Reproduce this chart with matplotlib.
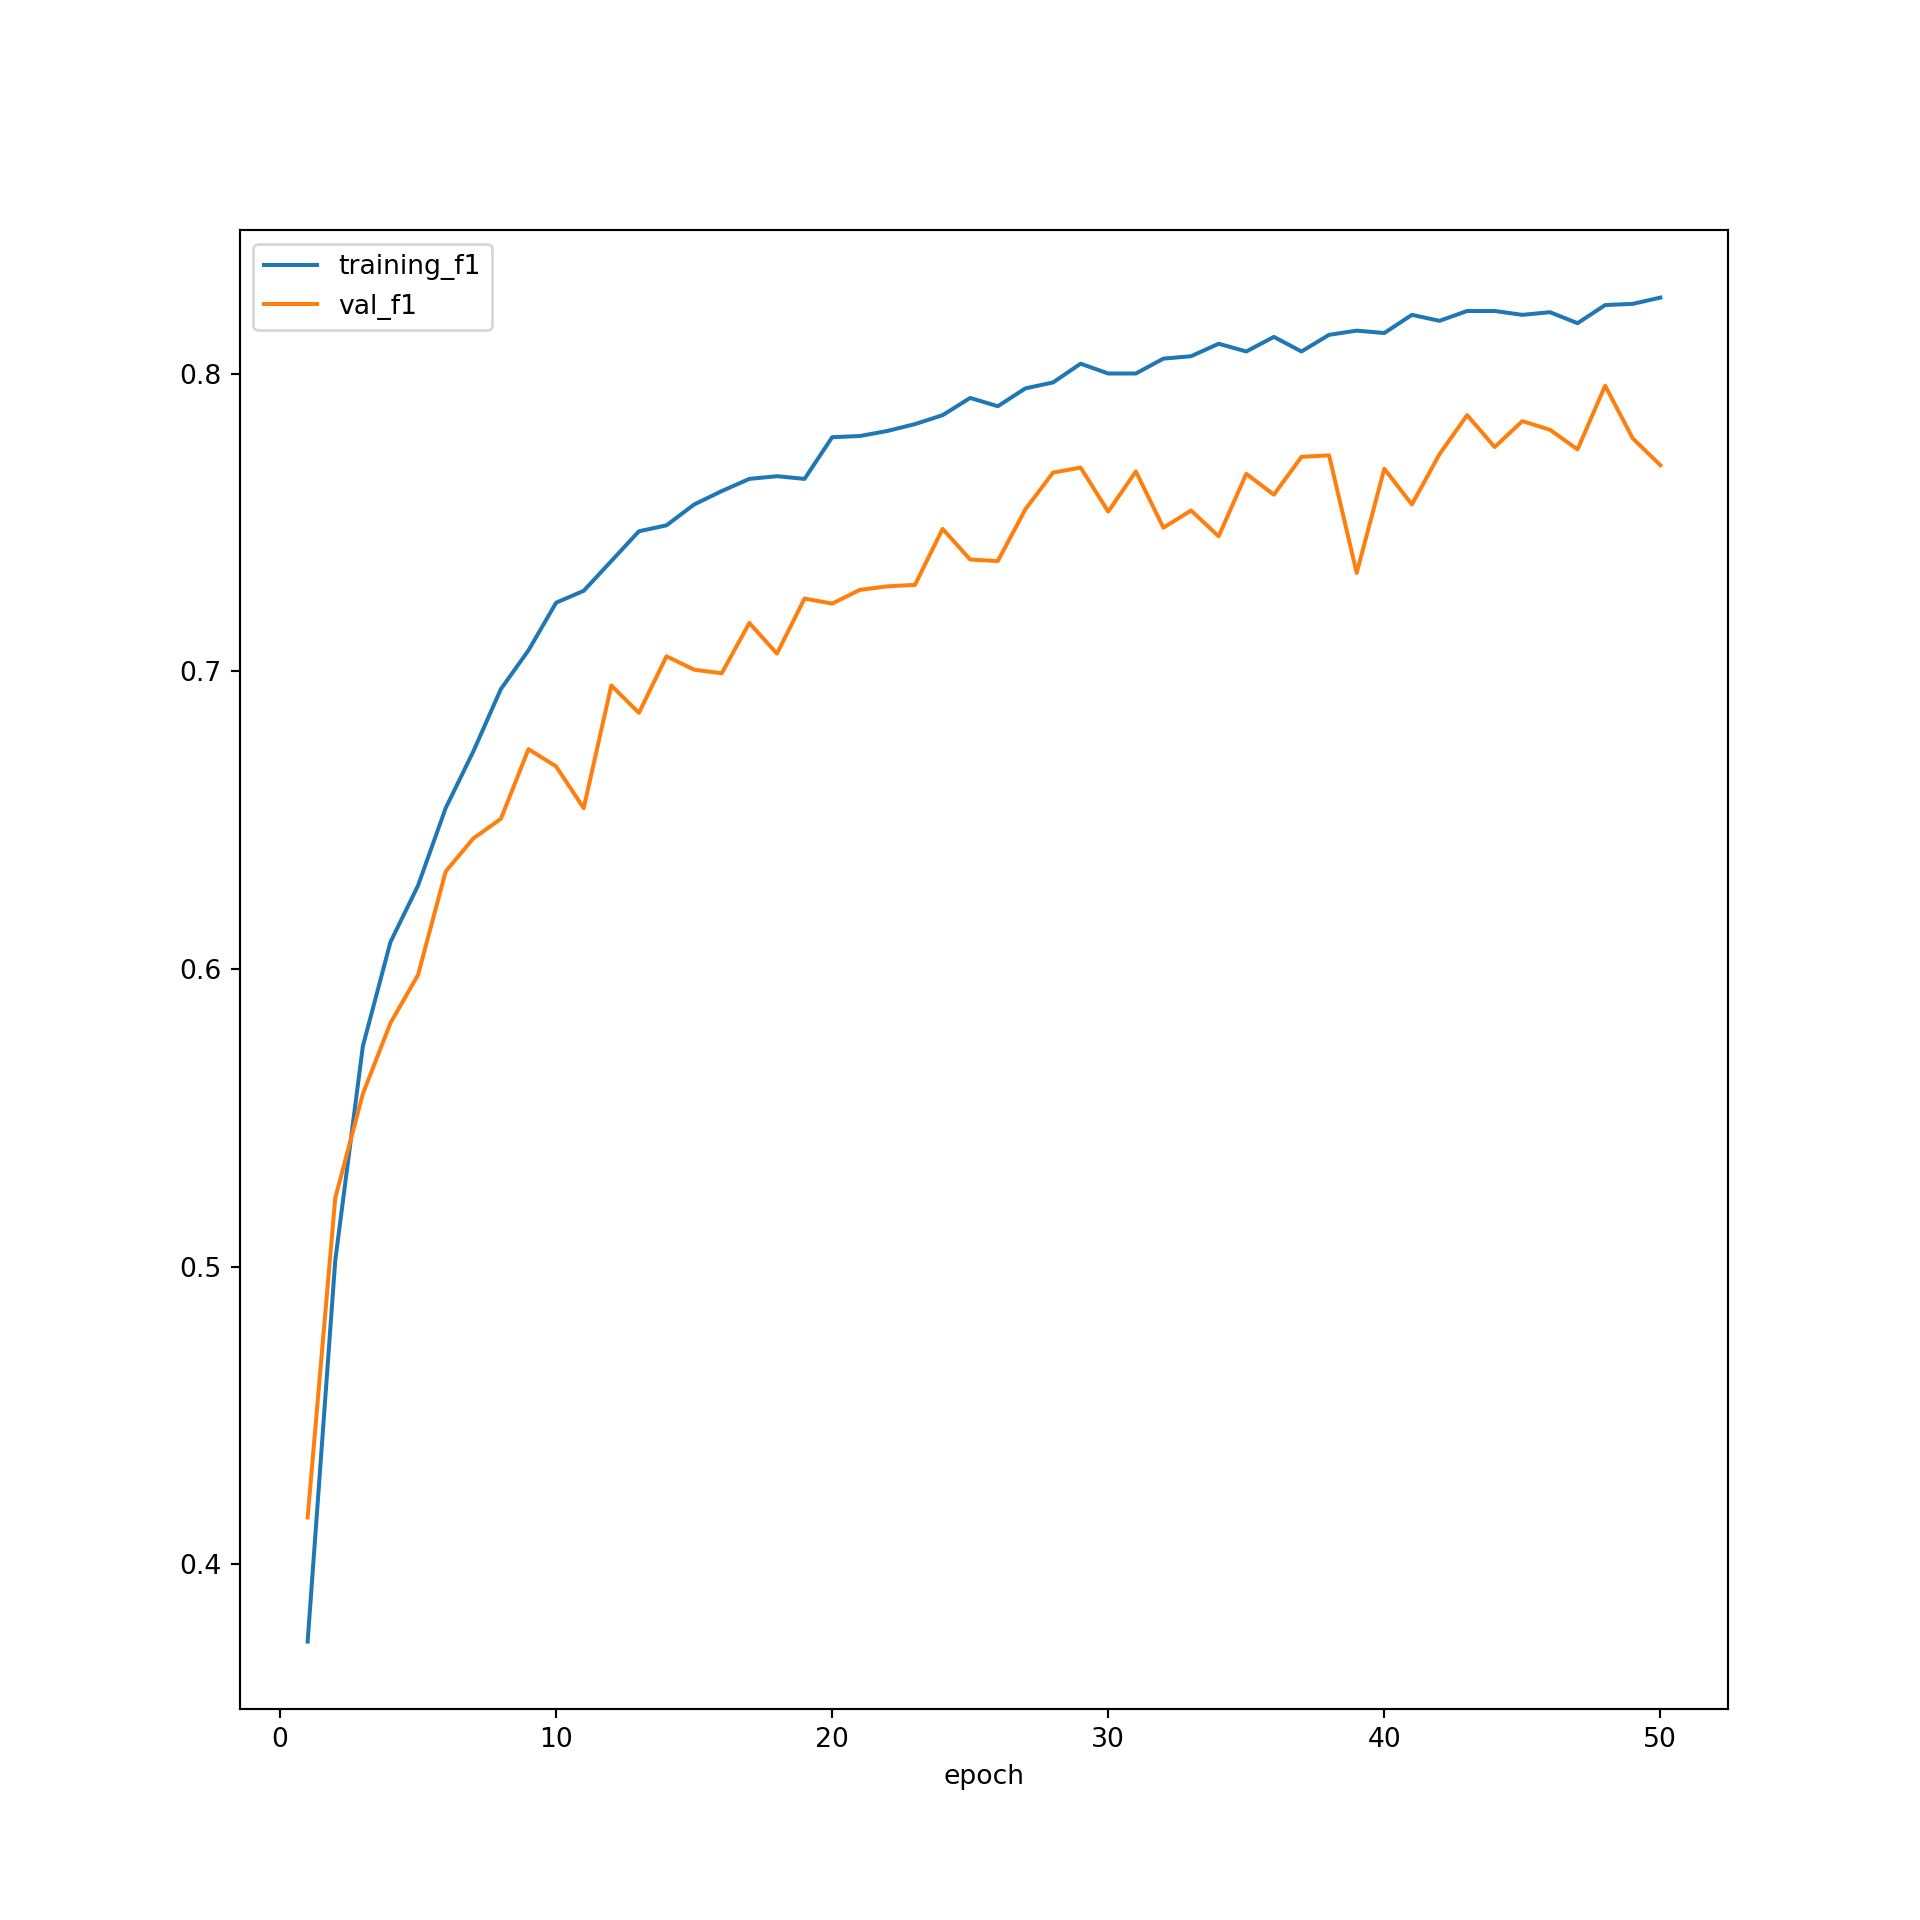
import numpy as np
import matplotlib
matplotlib.use('Agg')
from matplotlib import pyplot as plt

epochs = list(range(1, 51))

training_f1 = [0.374, 0.502, 0.574, 0.609, 0.628, 0.654, 0.673, 0.694, 0.707, 0.723,
               0.727, 0.737, 0.747, 0.749, 0.756, 0.7605, 0.7646, 0.7655, 0.7646, 0.7786,
               0.779, 0.7807, 0.783, 0.786, 0.7918, 0.789, 0.795, 0.797, 0.8033, 0.800,
               0.800, 0.805, 0.8058, 0.810, 0.8074, 0.8123, 0.8074, 0.813, 0.8144, 0.8136,
               0.8197, 0.8177, 0.821, 0.821, 0.8197, 0.8206, 0.8169, 0.823, 0.8234, 0.8255]

val_f1 = [0.4157, 0.523, 0.558, 0.5818, 0.598, 0.6327, 0.6438, 0.6504, 0.6738, 0.668,
          0.654, 0.6952, 0.686, 0.705, 0.7005, 0.6993, 0.7162, 0.7059, 0.7244, 0.7227,
          0.7273, 0.7285, 0.729, 0.7478, 0.7375, 0.737, 0.7544, 0.7667, 0.7684, 0.7536,
          0.7671, 0.7482, 0.754, 0.7453, 0.7663, 0.7593, 0.772, 0.7725, 0.733, 0.768,
          0.756, 0.7729, 0.786, 0.7753, 0.784, 0.7811, 0.7745, 0.7959, 0.7782, 0.7692]

fig = plt.figure(figsize=(10, 10), dpi=192)
plt.plot(epochs, training_f1, label='training_f1')
plt.plot(epochs, val_f1, label='val_f1')
plt.xlabel('epoch')
plt.legend(loc='upper left')
plt.savefig('out.png', dpi=192)
